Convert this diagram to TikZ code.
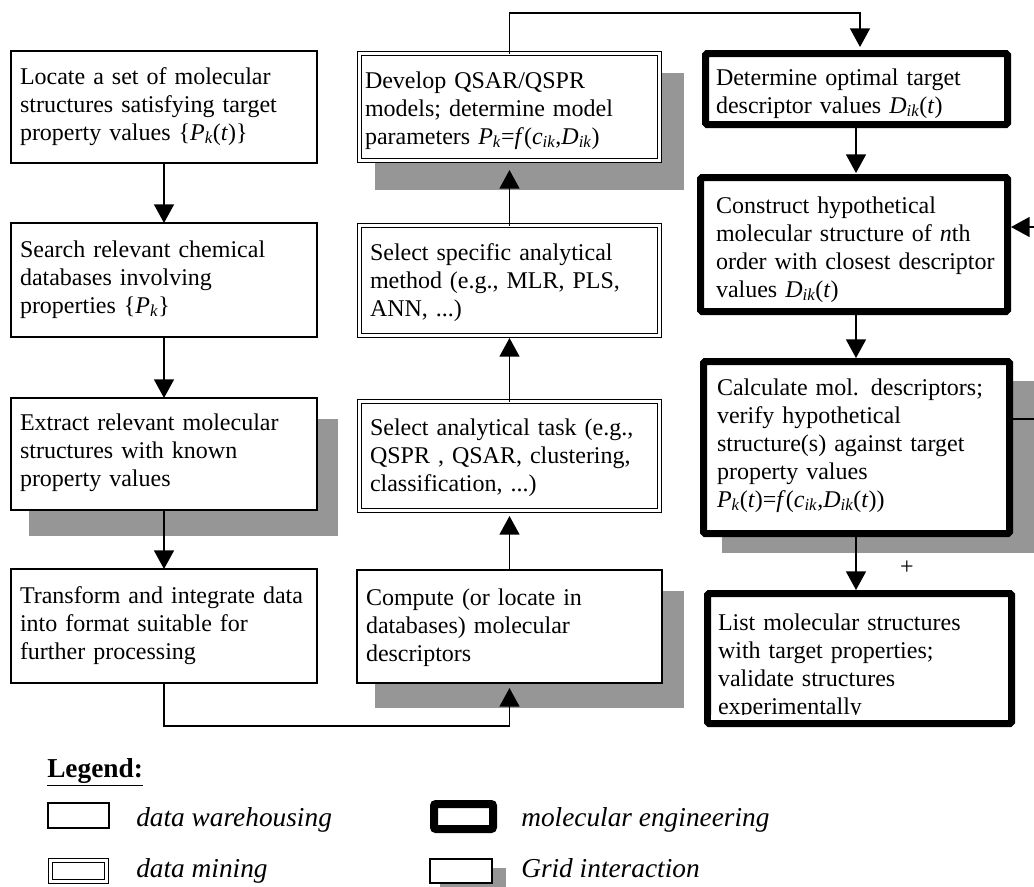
\documentclass[tikz,border=0pt]{standalone}
\usepackage{fontspec}
\setmainfont{Liberation Serif}
\usetikzlibrary{arrows.meta,calc}
\newdimen\px
\px=0.75pt
\newcommand\IT[1]{\textit{#1}}
\newcommand\sbi[1]{\textsubscript{\itshape #1}}
\definecolor{shadowgray}{RGB}{150,150,150}
\tikzset{
  boxbase/.style={anchor=north west, inner ysep=0pt, outer sep=0pt, align=left, fill=white,
     font=\fontsize{18pt}{21pt}\selectfont},
  whbox/.style={boxbase, draw, line width=1.5\px},
  dmbox/.style={boxbase, draw, double, double distance=2.5\px, line width=1.2\px},
  mebox/.style={boxbase, draw, line width=7\px, rounded corners=1.5\px},
  gridshadow/.style={fill=shadowgray},
  flow/.style={line width=1.5\px, -{Triangle[width=15pt,length=14pt]}},
  legtext/.style={anchor=base west, inner sep=0pt, font=\fontsize{20.5pt}{24pt}\selectfont\itshape},
  legbox/.style={anchor=north west, inner sep=0pt, outer sep=0pt, fill=white},
}
\begin{document}
\begin{tikzpicture}[x=0.75pt,y=-0.75pt]
\useasboundingbox (0,0) rectangle (1034,886);
\clip (0,0) rectangle (1034,886);

% grid-interaction shadows
\fill[gridshadow] (29,419) rectangle (338,536);
\fill[gridshadow] (375,73) rectangle (684,190);
\fill[gridshadow] (375,591) rectangle (684,708);
\fill[gridshadow] (722,381) rectangle (1040,553);
\fill[gridshadow] (440,868) rectangle (506,892);

% left column: data warehousing
\node[whbox, minimum width=306\px, minimum height=112\px, inner xsep=9\px, text width=288\px, text height=33\px, text depth=79\px] (L1) at (11,51)
  {Locate a set of molecular\\structures satisfying target\\property values \{\IT{P}\sbi{k}(\IT{t})\}};
\node[whbox, minimum width=306\px, minimum height=114\px, inner xsep=9\px, text width=288\px, text height=34\px, text depth=80\px] (L2) at (11,223)
  {Search relevant chemical\\databases involving\\properties \{\IT{P}\sbi{k}\}};
\node[whbox, minimum width=306\px, minimum height=112\px, inner xsep=9\px, text width=288\px, text height=32\px, text depth=80\px] (L3) at (11,398)
  {Extract relevant molecular\\structures with known\\property values};
\node[whbox, minimum width=306\px, minimum height=114\px, inner xsep=9\px, text width=288\px, text height=34\px, text depth=80\px] (L4) at (11,569)
  {Transform and integrate data\\into format suitable for\\further processing};

% centre column
\node[dmbox, minimum width=300\px, minimum height=107\px, inner xsep=5.5\px, text width=289\px, text height=34.5\px, text depth=72.5\px] (C1) at (359.5,53.5)
  {Develop QSAR/QSPR\\models; determine model\\parameters \IT{P}\sbi{k}=\IT{f}(\IT{c}\sbi{ik},\IT{D}\sbi{ik})};
\node[dmbox, minimum width=300\px, minimum height=110\px, inner xsep=10.5\px, text width=279\px, text height=34.5\px, text depth=75.5\px] (C2) at (359.5,225.5)
  {Select specific analytical\\method (e.g., MLR, PLS,\\ANN, ...)};
\node[dmbox, minimum width=300\px, minimum height=109\px, inner xsep=10.5\px, text width=279\px, text height=33.5\px, text depth=75.5\px] (C3) at (359.5,401.5)
  {Select analytical task (e.g.,\\QSPR , QSAR, clustering,\\classification, ...)};
\node[whbox, minimum width=305\px, minimum height=113\px, inner xsep=9\px, text width=287\px, text height=35\px, text depth=78\px] (C4) at (357,570)
  {Compute (or locate in\\databases) molecular\\descriptors};

% right column: molecular engineering
\node[mebox, minimum width=302\px, minimum height=71\px, inner xsep=10.5\px, text width=281\px, text height=31.5\px, text depth=39.5\px] (R1) at (705.5,53.5)
  {Determine optimal target\\descriptor values \IT{D}\sbi{ik}(\IT{t})};
\node[mebox, minimum width=307\px, minimum height=134\px, inner xsep=15.5\px, text width=276\px, text height=35.5\px, text depth=98.5\px] (R2) at (700.5,177.5)
  {Construct hypothetical\\molecular structure of \IT{n}th\\\mbox{order with closest descriptor}\\values \IT{D}\sbi{ik}(\IT{t})};
\node[mebox, minimum width=306\px, minimum height=172\px, inner xsep=13.5\px, text width=279\px, text height=33.5\px, text depth=138.5\px] (R3) at (703.5,361.5)
  {\mbox{Calculate mol. descriptors;}\\verify hypothetical\\structure(s) against target\\property values\\\IT{P}\sbi{k}(\IT{t})=\IT{f}(\IT{c}\sbi{ik},\IT{D}\sbi{ik}(\IT{t}))};
\node[mebox, minimum width=304\px, minimum height=130\px, inner xsep=10.5\px, text width=283\px, text height=36.5\px, text depth=93.5\px] (R4) at (707.5,593.5)
  {List molecular structures\\with target properties;\\validate structures\\experimentally};
\fill[white] ($(R4.south west)+(3.5,-8.5)$) rectangle ($(R4.south east)+(-3.5,-3.5)$);

% connectors
\coordinate (colR) at (856,0);
\draw[flow] (L1.south) -- (L2.north);
\draw[flow] (L2.south) -- (L3.north);
\draw[flow] (L3.south) -- (L4.north);
\draw[flow] (L4.south) -- ++(0,43) -| ($(C4.south)+(0,5)$);
\draw[flow] (C4.north) -- ($(C3.south)+(0,5.5)$);
\draw[flow] (C3.north) -- ($(C2.south)+(0,2.5)$);
\draw[flow] (C2.north) -- ($(C1.south)+(0,9.5)$);
\draw[flow] (C1.north) -- ++(0,-40.5) -| ($(R1.north)+(3.5,-6.5)$);
\draw[flow] (R1.south -| colR) -- ($(R2.north -| colR)+(0,-4.5)$);
\draw[flow] (R2.south -| colR) -- ($(R3.north -| colR)+(0,-3.5)$);
\draw[flow] (R3.south -| colR) -- ($(R4.north -| colR)+(0,-3.5)$);
\coordinate (loopA) at (1046,419);
\coordinate (loopB) at (1046,227);
\draw[flow] (R3.east |- loopA) -- (loopA) -- (loopB) -- ($(R2.east |- loopB)+(3.5,0)$);
\node[font=\fontsize{18pt}{21pt}\selectfont, inner sep=0pt] (plus) at (907,568) {+};

% legend
\node[anchor=base west, inner sep=0pt, font=\fontsize{20.5pt}{24pt}\selectfont\bfseries] (legtitle) at (47,777) {\underline{Legend:}};
\node[legbox, draw, line width=1.5\px, minimum width=61\px, minimum height=25\px] (lgwh) at (48,803) {};
\node[legtext] (lgwht) at (136,826) {data warehousing};
\node[legbox, draw, double, double distance=2.5\px, line width=1.2\px, minimum width=56\px, minimum height=21\px] (lgdm) at (50.5,860.5) {};
\node[legtext] (lgdmt) at (136,877) {data mining};
\node[legbox, draw, line width=8\px, rounded corners=2\px, minimum width=59\px, minimum height=25\px] (lgme) at (434,804) {};
\node[legtext] (lgmet) at (521,826) {molecular engineering};
\node[legbox, draw, line width=1.5\px, minimum width=62\px, minimum height=24\px] (lggr) at (430,859) {};
\node[legtext] (lggrt) at (521,877) {Grid interaction};
\end{tikzpicture}
\end{document}
